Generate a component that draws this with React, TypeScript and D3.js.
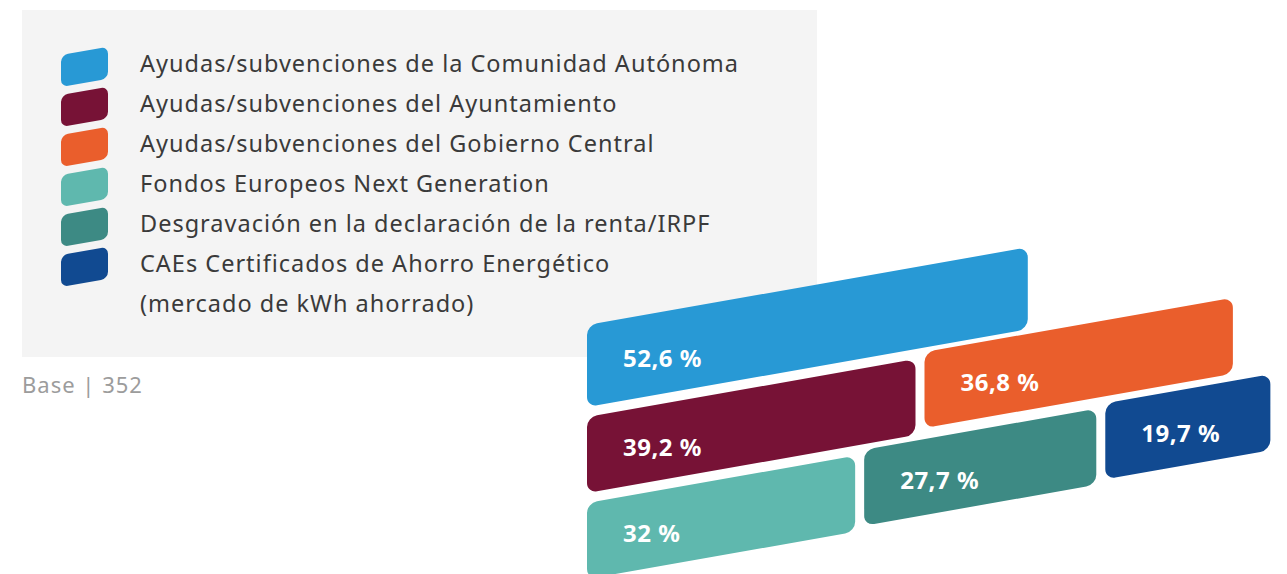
import React from "react";
import * as d3 from "d3";

// legend labels, one per series
const categories = [
  "Ayudas/subvenciones de la Comunidad Autónoma",
  "Ayudas/subvenciones del Ayuntamiento",
  "Ayudas/subvenciones del Gobierno Central",
  "Fondos Europeos Next Generation",
  "Desgravación en la declaración de la renta/IRPF",
  "CAEs Certificados de Ahorro Energético",
];
const legendTail = "(mercado de kWh ahorrado)";
const values = [52.6, 39.2, 36.8, 32, 27.7, 19.7];
const colors = ["#2899d5", "#771236", "#ea5e2c", "#5fb8ae", "#3d8a84", "#114a91"];
// which series sit on which row of the brick layout
const rows = [[0], [1, 2], [3, 4, 5]];
const baseText = "Base | 352";

const W = 1287;
const H = 574;
const angle = 10;
const tan = Math.tan((angle * Math.PI) / 180);
const font = "'Noto Sans', sans-serif";

const fmt = (v: number) => String(v).replace(".", ",") + " %";

const App = () => {
  const x = d3.scaleLinear().domain([0, 100]).range([0, 838]);

  const left0 = 587;
  const top0 = 325;
  const gap = 9;
  const rowGap = 10;
  const rowHeights = [82, 76, 76];
  const lift = 0.016; // bricks further right sit a little higher

  const bars: { i: number; left: number; top: number; w: number; h: number }[] = [];
  let rowTop = top0;
  rows.forEach((row, r) => {
    let left = left0;
    const h = rowHeights[r];
    row.forEach((i) => {
      const w = x(values[i]);
      const top = rowTop - (tan + lift) * (left - left0);
      bars.push({ i, left, top, w, h });
      left += w + gap;
    });
    rowTop += h + rowGap;
  });

  const labelPad = 36;

  return (
    <svg
      width={W}
      height={H}
      style={{ position: "absolute", left: 0, top: 0, display: "block" }}
    >
      <rect x={0} y={0} width={W} height={H} fill="#ffffff" />

      {/* legend box */}
      <rect x={22} y={10} width={795} height={347} fill="#f4f4f4" />
      {categories.map((c, i) => (
        <g key={c}>
          <g transform={`translate(61,${55 + 40 * i}) skewY(${-angle})`}>
            <rect width={47} height={32} rx={7} fill={colors[i]} />
          </g>
          <text
            x={140}
            y={72 + 40 * i}
            fontFamily={font}
            fontSize={23.5}
            letterSpacing={1}
            fill="#3a3a3a"
          >
            {c}
          </text>
        </g>
      ))}
      <text
        x={140}
        y={72 + 40 * categories.length}
        fontFamily={font}
        fontSize={23.5}
        letterSpacing={1}
        fill="#3a3a3a"
      >
        {legendTail}
      </text>

      <text x={22} y={393} fontFamily={font} fontSize={22} letterSpacing={1} fill="#9c9c9c">
        {baseText}
      </text>

      {/* skewed bricks */}
      {bars.map((b) => (
        <g key={b.i}>
          <g transform={`translate(${b.left},${b.top}) skewY(${-angle})`}>
            <rect width={b.w} height={b.h} rx={10} fill={colors[b.i]} />
          </g>
          <text
            x={b.left + labelPad}
            y={b.top + b.h / 2 - tan * labelPad - 2}
            dominantBaseline="central"
            fontFamily={font}
            fontWeight={700}
            fontSize={24}
            letterSpacing={0.5}
            fill="#ffffff"
          >
            {fmt(values[b.i])}
          </text>
        </g>
      ))}
    </svg>
  );
};

export default App;
